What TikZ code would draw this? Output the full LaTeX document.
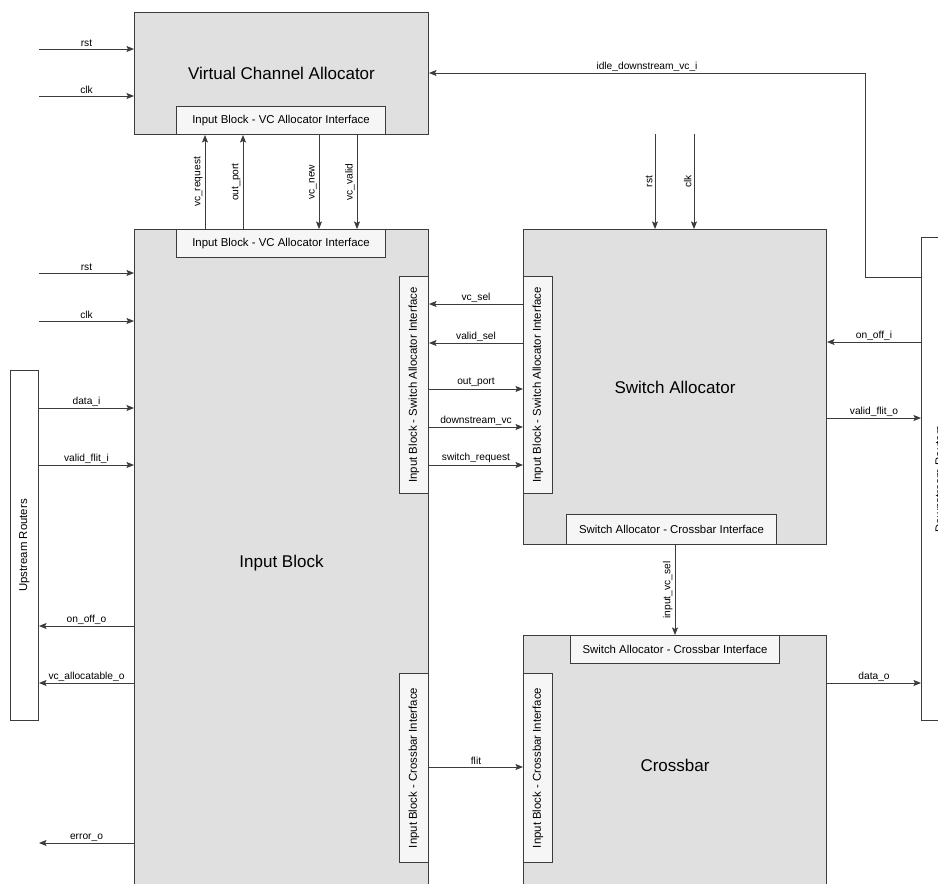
\documentclass[tikz,border=0pt]{standalone}
\usepackage{fontspec}
\setmainfont{Liberation Sans}
\usetikzlibrary{arrows.meta}
\definecolor{blockgray}{RGB}{224,224,224}
\definecolor{ifacegray}{RGB}{246,246,246}
\definecolor{edgecol}{RGB}{60,60,60}
\begin{document}
\begin{tikzpicture}[x=1pt,y=-1pt,
  block/.style={draw=edgecol, fill=blockgray, line width=1pt, anchor=north west, inner sep=0pt, font=\fontsize{17}{19}\selectfont},
  iface/.style={draw=edgecol, fill=ifacegray, line width=1pt, anchor=north west, inner sep=0pt, font=\fontsize{11.4}{13}\selectfont},
  router/.style={draw=edgecol, fill=white, line width=1pt, anchor=north west, inner sep=0pt, font=\fontsize{11.4}{13}\selectfont},
  sig/.style={draw=edgecol, line width=0.9pt, -{Stealth[length=7.5pt,width=6pt,inset=1.5pt]}},
  lbl/.style={font=\fontsize{10.2}{12}\selectfont, inner sep=1.5pt, text=black},
  vlbl/.style={lbl, rotate=90, anchor=south, inner sep=2pt},
]
\useasboundingbox (0,0) rectangle (938,884);
\clip (0,0) rectangle (938,884);

% blocks
\node[block, minimum width=294pt, minimum height=122pt] (vca) at (134,12) {Virtual Channel Allocator};
\node[iface, minimum width=209pt, minimum height=28pt] (vcaif) at (176,106) {Input Block - VC Allocator Interface};

\node[block, minimum width=294pt, minimum height=668pt] (ib) at (134,229) {Input Block};
\node[iface, minimum width=209pt, minimum height=28pt] (ibvc) at (176,229) {Input Block - VC Allocator Interface};
\node[iface, minimum width=29pt, minimum height=217pt] (ibsa) at (399,276) {\rotatebox{90}{Input Block - Switch Allocator Interface}};
\node[iface, minimum width=29pt, minimum height=189pt] (ibxb) at (399,673) {\rotatebox{90}{Input Block - Crossbar Interface}};

\node[block, minimum width=303pt, minimum height=315pt] (sa) at (523,229) {Switch Allocator};
\node[iface, minimum width=29pt, minimum height=217pt] (saib) at (523,276) {\rotatebox{90}{Input Block - Switch Allocator Interface}};
\node[iface, minimum width=210pt, minimum height=30pt] (saxb) at (566,514) {Switch Allocator - Crossbar Interface};

\node[block, minimum width=303pt, minimum height=260pt] (xb) at (523,635) {Crossbar};
\node[iface, minimum width=209pt, minimum height=28pt] (xbsa) at (570,635) {Switch Allocator - Crossbar Interface};
\node[iface, minimum width=29pt, minimum height=189pt] (xbib) at (523,673) {\rotatebox{90}{Input Block - Crossbar Interface}};

\node[router, minimum width=28pt, minimum height=350pt] (up) at (10,370) {\rotatebox{90}{Upstream Routers}};
\node[router, minimum width=36pt, minimum height=483pt] (down) at (921,237) {\rotatebox{90}{Downstream Routers}};

% free ends
\coordinate (vcarst) at (39,49);
\coordinate (vcaclk) at (39,96);
\coordinate (ibrst) at (39,273);
\coordinate (ibclk) at (39,321);
\coordinate (errend) at (39,843);
\coordinate (sarst) at (655,134);
\coordinate (saclk) at (694,134);
\coordinate (idlebend) at (865,73);

% VCA inputs
\draw[sig] (vcarst) -- (vca.west |- vcarst) node[lbl, midway, above] {rst};
\draw[sig] (vcaclk) -- (vca.west |- vcaclk) node[lbl, midway, above] {clk};

% VCA <-> IB
\draw[sig] (ibvc.north -| 205,0) -- (vcaif.south -| 205,0) node[vlbl, midway] {vc\_request};
\draw[sig] (ibvc.north -| 243,0) -- (vcaif.south -| 243,0) node[vlbl, midway] {out\_port};
\draw[sig] (vcaif.south -| 319,0) -- (ibvc.north -| 319,0) node[vlbl, midway] {vc\_new};
\draw[sig] (vcaif.south -| 357,0) -- (ibvc.north -| 357,0) node[vlbl, midway] {vc\_valid};

% IB inputs / outputs
\draw[sig] (ibrst) -- (ib.west |- ibrst) node[lbl, midway, above] {rst};
\draw[sig] (ibclk) -- (ib.west |- ibclk) node[lbl, midway, above] {clk};
\draw[sig] (up.east |- 0,408) -- (ib.west |- 0,408) node[lbl, midway, above] {data\_i};
\draw[sig] (up.east |- 0,465) -- (ib.west |- 0,465) node[lbl, midway, above] {valid\_flit\_i};
\draw[sig] (ib.west |- 0,626) -- (up.east |- 0,626) node[lbl, midway, above] {on\_off\_o};
\draw[sig] (ib.west |- 0,683) -- (up.east |- 0,683) node[lbl, midway, above] {vc\_allocatable\_o};
\draw[sig] (ib.west |- errend) -- (errend) node[lbl, midway, above] {error\_o};

% IB <-> SA
\draw[sig] (saib.west |- 0,304) -- (ibsa.east |- 0,304) node[lbl, midway, above] {vc\_sel};
\draw[sig] (saib.west |- 0,343) -- (ibsa.east |- 0,343) node[lbl, midway, above] {valid\_sel};
\draw[sig] (ibsa.east |- 0,389) -- (saib.west |- 0,389) node[lbl, midway, above] {out\_port};
\draw[sig] (ibsa.east |- 0,427) -- (saib.west |- 0,427) node[lbl, midway, above] {downstream\_vc};
\draw[sig] (ibsa.east |- 0,465) -- (saib.west |- 0,465) node[lbl, midway, above] {switch\_request};

% SA inputs
\draw[sig] (sarst) -- (sa.north -| sarst) node[vlbl, midway] {rst};
\draw[sig] (saclk) -- (sa.north -| saclk) node[vlbl, midway] {clk};

% idle downstream
\draw[sig] (down.west |- 0,277) -| (idlebend) -- (vca.east |- idlebend) node[lbl, midway, above] {idle\_downstream\_vc\_i};

% SA <-> downstream
\draw[sig] (down.west |- 0,342) -- (sa.east |- 0,342) node[lbl, midway, above] {on\_off\_i};
\draw[sig] (sa.east |- 0,418) -- (down.west |- 0,418) node[lbl, midway, above] {valid\_flit\_o};

% SA -> Crossbar
\draw[sig] (saxb.south -| 675,0) -- (xbsa.north -| 675,0) node[vlbl, midway] {input\_vc\_sel};

% IB -> Crossbar
\draw[sig] (ibxb.east |- 0,767) -- (xbib.west |- 0,767) node[lbl, midway, above] {flit};

% Crossbar -> downstream
\draw[sig] (xb.east |- 0,683) -- (down.west |- 0,683) node[lbl, midway, above] {data\_o};
\end{tikzpicture}
\end{document}
